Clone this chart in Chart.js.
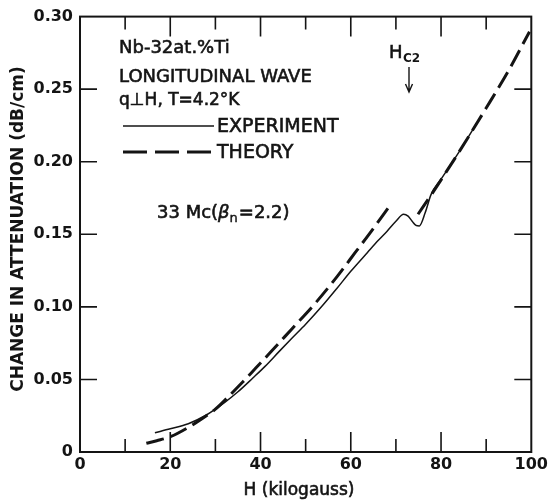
<!DOCTYPE html>
<html>
<head>
<meta charset="utf-8">
<script src="https://cdn.jsdelivr.net/npm/chart.js@4.4.1/dist/chart.umd.min.js"></script>
<style>
  html, body { margin: 0; padding: 0; background: #fff; }
  #wrap { width: 551px; height: 502px; position: relative; }
</style>
</head>
<body>
<div id="wrap"><canvas id="chart"></canvas></div>
<script>
// values (H in kilogauss, attenuation in dB/cm)
const expH = [16.6, 20, 24, 28, 32, 35, 38.3, 41, 44.2, 47, 50, 53.5, 57, 60, 63.7, 66, 68, 70, 71.7, 72.7, 73.6, 74.5, 75.2, 76.5, 77.8, 80, 84, 88];
const expAtt = [0.0133, 0.016, 0.0195, 0.0255, 0.034, 0.0415, 0.051, 0.059, 0.0695, 0.0785, 0.088, 0.1, 0.113, 0.1245, 0.1375, 0.1455, 0.152, 0.159, 0.1638, 0.1625, 0.159, 0.156, 0.1558, 0.165, 0.1775, 0.188, 0.2068, 0.227];

const theoryH = [14.7, 17, 20, 24.3, 28, 30, 33, 36, 39, 42, 47, 52, 57, 61, 65, 68.7, 71.8, 74.9, 78, 81.5, 84.1, 90, 95, 99.6];
const theoryAtt = [0.006, 0.0078, 0.0105, 0.0175, 0.025, 0.0295, 0.0385, 0.048, 0.058, 0.068, 0.085, 0.102, 0.121, 0.1375, 0.154, 0.17, null, 0.1638, 0.178, 0.1947, 0.2073, 0.237, 0.263, 0.2896];

const xTickLabels = ['0', '20', '40', '60', '80', '100'];
const xMinorTicks = [10, 30, 50, 70, 90];
const yTickLabels = ['0', '0.05', '0.10', '0.15', '0.20', '0.25', '0.30'];

const ink = '#141414';
const FONT = '"DejaVu Sans", sans-serif';

function toPoints(xs, ys) {
    return xs.map((x, i) => ({ x: x, y: ys[i] }));
}

// filled text with a thin outline so it reads as heavy as the old lettering
function heavyText(ctx, txt, x, y, w) {
    ctx.lineWidth = w || 0.6;
    ctx.fillText(txt, x, y);
    ctx.strokeText(txt, x, y);
}

// frame, inward ticks and the lettering inside the plot
const decor = {
    id: 'decor',
    afterDraw(chart) {
        const ctx = chart.ctx;
        const area = chart.chartArea;
        const xs = chart.scales.x;
        const ys = chart.scales.y;
        ctx.save();
        ctx.strokeStyle = ink;
        ctx.fillStyle = ink;
        ctx.lineWidth = 2;
        ctx.strokeRect(area.left, area.top, area.right - area.left, area.bottom - area.top);

        // x ticks on bottom and top
        ctx.lineWidth = 1.6;
        const xAll = [10, 20, 30, 40, 50, 60, 70, 80, 90];
        xAll.forEach(v => {
            const px = xs.getPixelForValue(v);
            const len = xMinorTicks.includes(v) ? 13 : 20;
            ctx.beginPath();
            ctx.moveTo(px, area.bottom);
            ctx.lineTo(px, area.bottom - len);
            ctx.moveTo(px, area.top);
            ctx.lineTo(px, area.top + len);
            ctx.stroke();
        });
        // y ticks on left and right
        [0.05, 0.10, 0.15, 0.20, 0.25].forEach(v => {
            const py = ys.getPixelForValue(v);
            ctx.beginPath();
            ctx.moveTo(area.left, py);
            ctx.lineTo(area.left + 17, py);
            ctx.moveTo(area.right, py);
            ctx.lineTo(area.right - 17, py);
            ctx.stroke();
        });

        // axis titles
        ctx.textBaseline = 'middle';
        ctx.textAlign = 'center';
        ctx.font = 'bold 17px ' + FONT;
        ctx.save();
        ctx.translate(19, 229);
        ctx.rotate(-Math.PI / 2);
        ctx.fillText('CHANGE IN ATTENUATION (dB/cm)', 0, 0);
        ctx.restore();
        ctx.font = '17px ' + FONT;
        heavyText(ctx, 'H (kilogauss)', 299, 491);

        // text block
        ctx.textAlign = 'left';
        ctx.font = '18px ' + FONT;
        heavyText(ctx, 'Nb-32at.%Ti', 119, 48);
        heavyText(ctx, 'LONGITUDINAL WAVE', 119, 77);
        ctx.font = '17px ' + FONT;
        heavyText(ctx, 'q\u22A5H, T=4.2\u00B0K', 119, 101);
        ctx.font = '19px ' + FONT;
        heavyText(ctx, 'EXPERIMENT', 217, 127);
        heavyText(ctx, 'THEORY', 217, 153);

        // legend samples
        ctx.lineWidth = 1.6;
        ctx.beginPath();
        ctx.moveTo(123, 126);
        ctx.lineTo(214, 126);
        ctx.stroke();
        ctx.lineWidth = 3;
        ctx.setLineDash([24, 8]);
        ctx.beginPath();
        ctx.moveTo(123, 152);
        ctx.lineTo(215, 152);
        ctx.stroke();
        ctx.setLineDash([]);

        // 33 Mc (beta_n = 2.2)
        ctx.font = '18px ' + FONT;
        let x = 157;
        heavyText(ctx, '33 Mc(', x, 213);
        x += ctx.measureText('33 Mc(').width;
        ctx.font = 'italic 18px ' + FONT;
        heavyText(ctx, '\u03B2', x, 213);
        x += ctx.measureText('\u03B2').width;
        ctx.font = '13px ' + FONT;
        heavyText(ctx, 'n', x, 219, 0.4);
        x += ctx.measureText('n').width + 1;
        ctx.font = '18px ' + FONT;
        heavyText(ctx, '=2.2)', x, 213);

        // H_c2 marker
        ctx.font = '18px ' + FONT;
        heavyText(ctx, 'H', 389, 53);
        ctx.font = 'bold 12px ' + FONT;
        ctx.fillText('C2', 403, 59);
        ctx.lineWidth = 1.4;
        ctx.beginPath();
        ctx.moveTo(409, 67);
        ctx.lineTo(409, 91);
        ctx.moveTo(405.5, 84);
        ctx.lineTo(409, 92);
        ctx.lineTo(412.5, 84);
        ctx.stroke();
        ctx.restore();
    }
};

new Chart(document.getElementById('chart'), {
    type: 'line',
    data: {
        datasets: [
            {
                label: 'EXPERIMENT',
                data: toPoints(expH, expAtt),
                borderColor: ink,
                borderWidth: 1.5,
                pointRadius: 0,
                cubicInterpolationMode: 'monotone',
                fill: false
            },
            {
                label: 'THEORY',
                data: toPoints(theoryH, theoryAtt),
                borderColor: ink,
                borderWidth: 3,
                borderDash: [18, 7],
                pointRadius: 0,
                cubicInterpolationMode: 'monotone',
                spanGaps: false,
                fill: false
            }
        ]
    },
    options: {
        responsive: true,
        maintainAspectRatio: false,
        animation: false,
        layout: { padding: { top: 15, right: 19, left: 0, bottom: 0 } },
        plugins: {
            legend: { display: false },
            tooltip: { enabled: false }
        },
        scales: {
            x: {
                type: 'linear',
                min: 0,
                max: 100,
                grid: { display: false, drawTicks: false },
                border: { display: false },
                ticks: {
                    stepSize: 20,
                    padding: 3,
                    color: ink,
                    font: { family: FONT, size: 16, weight: 'bold' },
                    maxRotation: 0,
                    callback: (v, i) => xTickLabels[i]
                },
                afterFit: scale => { scale.height = 50; }
            },
            y: {
                min: 0,
                max: 0.30,
                grid: { display: false, drawTicks: false },
                border: { display: false },
                ticks: {
                    stepSize: 0.05,
                    padding: 7,
                    color: ink,
                    font: { family: FONT, size: 16, weight: 'bold' },
                    callback: (v, i) => yTickLabels[i]
                },
                afterFit: scale => { scale.width = 80; }
            }
        }
    },
    plugins: [decor]
});
</script>
</body>
</html>
